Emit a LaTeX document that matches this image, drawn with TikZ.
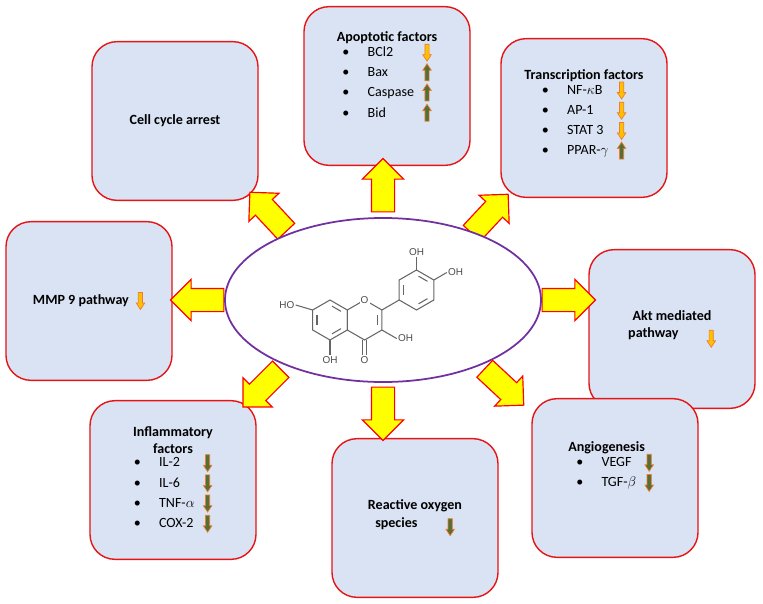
\documentclass[tikz,border=0pt]{standalone}
\usepackage{fontspec}
\setmainfont{Carlito}
\newfontfamily\chemfont{Liberation Sans}
\usetikzlibrary{shapes.geometric, shapes.arrows, calc}
\definecolor{boxblue}{RGB}{218,227,243}
\definecolor{boxred}{RGB}{230,20,20}
\definecolor{ringviolet}{RGB}{112,48,160}
\definecolor{arrowyellow}{RGB}{255,255,0}
\definecolor{downorange}{RGB}{255,192,0}
\definecolor{uporange}{RGB}{237,125,49}
\definecolor{upgreen}{RGB}{84,110,53}
\tikzstyle{effectbox} = [rectangle, rounded corners=0.75cm, minimum width=4.98cm, minimum height=4.76cm, draw=boxred, line width=1.2pt, fill=boxblue, align=center, font=\fontsize{12}{15}\selectfont]
\tikzstyle{bigarrow} = [single arrow, draw=red, line width=1pt, fill=arrowyellow, inner sep=0.33cm, single arrow head extend=0.27cm, minimum height=1.6cm, single arrow head indent=0cm]
\tikzstyle{bond} = [draw=black!60, line width=0.9pt]
\tikzstyle{atom} = [font=\chemfont\fontsize{8.5}{9}\selectfont, text=black!70, inner sep=1pt]
\newcommand{\tinyarrow}[2]{\tikz[baseline=-0.6ex, x=1pt, y=#1pt, sharp corners, line width=0.6pt]
	\filldraw[draw=uporange, fill=#2] (-1.8,7) -- (1.8,7) -- (1.8,-2) -- (3.6,-2) -- (0,-7.5) -- (-3.6,-2) -- (-1.8,-2) -- cycle;}
\newcommand{\decr}{\tinyarrow{1}{downorange}}
\newcommand{\incr}{\tinyarrow{-1}{upgreen}}
\newcommand{\lowered}{\tinyarrow{1}{upgreen}}
\newcommand{\itemrows}[1]{{\renewcommand{\arraystretch}{1.15}\begin{tabular}{@{}l@{\hspace{1.3em}}l@{\hspace{0.6em}}c@{}}#1\end{tabular}}}
\begin{document}
\begin{tikzpicture}[x=0.03cm, y=0.03cm]
	\useasboundingbox (0,0) rectangle (763,603);
	% boxes
	\node (cell) [effectbox] at (175,482) {\textbf{Cell cycle arrest}};
	\node (apop) [effectbox] at (387,517) {\textbf{Apoptotic factors}\\[-2pt]
		\itemrows{\textbullet & BCl2 & \decr\\ \textbullet & Bax & \incr\\ \textbullet & Caspase & \incr\\ \textbullet & Bid & \incr}\\[14pt]};
	\node (trans) [effectbox] at (584,485) {\textbf{Transcription factors}\\[-2pt]
		\itemrows{\textbullet & NF-$\kappa$B & \decr\\ \textbullet & AP-1 & \decr\\ \textbullet & STAT 3 & \decr\\ \textbullet & PPAR-$\gamma$ & \incr}\\[4pt]};
	\node (mmp) [effectbox] at (89,302) {\textbf{MMP 9 pathway}\enspace\decr};
	\node (akt) [effectbox] at (672,274) {\textbf{Akt mediated}\\ \textbf{pathway}\qquad\raisebox{-4pt}{\decr}};
	\node (infl) [effectbox] at (173,123) {\textbf{Inflammatory}\\ \textbf{factors}\\[-2pt]
		\itemrows{\textbullet & IL-2 & \lowered\\ \textbullet & IL-6 & \lowered\\ \textbullet & TNF-$\alpha$ & \lowered\\ \textbullet & COX-2 & \lowered}};
	\node (ros) [effectbox] at (415,85) {\textbf{Reactive oxygen}\\ \textbf{species}\qquad\raisebox{-3pt}{\lowered}};
	\node (angio) [effectbox] at (615,125) {\textbf{Angiogenesis}\hspace*{1.2em}\\[-2pt]
		\itemrows{\textbullet & VEGF & \lowered\\ \textbullet & TGF-$\beta$ & \lowered}\\[18pt]};
	% block arrows
	\node (aup) [bigarrow, rotate=90] at (383,412) {};
	\node (ane) [bigarrow, rotate=47] at (486,385) {};
	\node (anw) [bigarrow, rotate=133] at (272,387) {};
	\node (aleft) [bigarrow, rotate=180] at (203,303) {};
	\node (aright) [bigarrow] at (563,303) {};
	\node (asw) [bigarrow, rotate=-135] at (266,219) {};
	\node (adown) [bigarrow, rotate=-90] at (383,195) {};
	\node (ase) [bigarrow, rotate=-43] at (500,220) {};
	% quercetin
	\node (core) [ellipse, draw=ringviolet, fill=white, line width=1.5pt, minimum width=9.48cm, minimum height=4.92cm] at (383,303) {};
	\coordinate (ringA) at (330,283);
	\coordinate (ringC) at (364.6,283);
	\coordinate (ringB) at (416.5,313);
	\foreach \r in {ringA, ringC, ringB}
		\draw[bond] ($(\r)+(30:20)$) \foreach \a in {90,150,...,390} {-- ($(\r)+(\a:20)$)};
	\foreach \r/\a in {ringA/30, ringA/150, ringA/270, ringB/30, ringB/150, ringB/270, ringC/330}
		\draw[bond, shorten <=2pt, shorten >=2pt] ($(\r)+(\a:15)$) -- ($(\r)+(\a+60:15)$);
	\draw[bond] ($(ringC)+(30:20)$) -- ($(ringB)+(210:20)$);
	\node (ho7) [atom, anchor=east] at ($(ringA)+(150:20)+(-17,5)$) {HO};
	\draw[bond] ($(ringA)+(150:20)$) -- (ho7.east);
	\node (oh5) [atom, anchor=north] at ($(ringA)+(270:20)+(0,-15)$) {OH};
	\draw[bond] ($(ringA)+(270:20)$) -- (oh5.north);
	\node (oxo) [atom, anchor=north] at ($(ringC)+(270:20)+(0,-15)$) {O};
	\draw[bond] ($(ringC)+(270:20)+(-2,0)$) -- ($(oxo.north)+(-2,0)$);
	\draw[bond] ($(ringC)+(270:20)+(2,0)$) -- ($(oxo.north)+(2,0)$);
	\node (oh3) [atom, anchor=west] at ($(ringC)+(330:20)+(330:17)$) {OH};
	\draw[bond] ($(ringC)+(330:20)$) -- (oh3.west);
	\node (oh3p) [atom, anchor=south] at ($(ringB)+(90:20)+(0,13)$) {OH};
	\draw[bond] ($(ringB)+(90:20)$) -- (oh3p.south);
	\node (oh4p) [atom, anchor=west] at ($(ringB)+(30:20)+(30:15)$) {OH};
	\draw[bond] ($(ringB)+(30:20)$) -- (oh4p.west);
	\node (oring) [atom, fill=white] at ($(ringC)+(90:20)$) {O};
\end{tikzpicture}
\end{document}
